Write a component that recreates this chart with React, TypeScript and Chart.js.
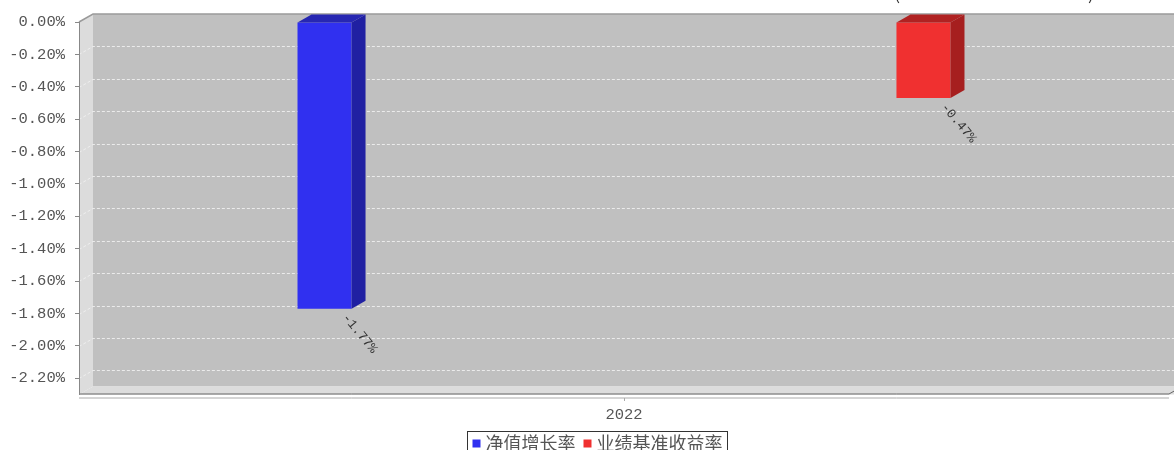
import React, { useEffect, useRef } from "react";
import { Chart, registerables } from "chart.js";

Chart.register(...registerables);

// ---- data ----
const categories = ["2022"];
const seriesNames = ["净值增长率", "业绩基准收益率"];
const navGrowth = [-1.77];
const benchmarkReturn = [-0.47];
const yTickValues = [0, -0.2, -0.4, -0.6, -0.8, -1.0, -1.2, -1.4, -1.6, -1.8, -2.0, -2.2];
const yMin = -2.3;
const yMax = 0;
const titleFragments = ["(", ")"];

// ---- styles ----
const FRONT = ["#3030f0", "#f03030"];
const SIDE = ["#2020a2", "#a61f1f"];
const TOP = ["#2727b2", "#b02222"];
const DX = 14;
const DY = 8;
const W = 1174;
const H = 470;
const MONO = "'Liberation Mono', 'DejaVu Sans Mono', monospace";
const CJK = "'Noto Sans CJK SC', 'Noto Sans', sans-serif";

function poly(ctx: CanvasRenderingContext2D, pts: number[][], fill: string) {
  ctx.beginPath();
  ctx.moveTo(pts[0][0], pts[0][1]);
  for (let i = 1; i < pts.length; i++) ctx.lineTo(pts[i][0], pts[i][1]);
  ctx.closePath();
  ctx.fillStyle = fill;
  ctx.fill();
}

const threeDPlugin = {
  id: "threeD",
  beforeDraw(chart: any) {
    const { ctx, chartArea: a } = chart;
    const ys = chart.scales.y;
    const xs = chart.scales.x;
    const L = a.left, R = a.right, T = a.top, B = a.bottom;
    ctx.save();
    // back wall
    ctx.fillStyle = "#c0c0c0";
    ctx.fillRect(L + DX, T - DY, R - L + 20, B - T);
    // left wall
    poly(ctx, [[L, T], [L + DX, T - DY], [L + DX, B - DY], [L, B]], "#dcdcdc");
    // floor
    poly(ctx, [[L, B], [L + DX, B - DY], [R + DX + 20, B - DY], [R + 20, B]], "#dcdcdc");
    // grid lines
    ctx.setLineDash([3, 2]);
    ctx.strokeStyle = "rgba(240,240,240,0.9)";
    ctx.lineWidth = 1;
    for (const v of yTickValues) {
      if (v === 0) continue;
      const py = Math.round(ys.getPixelForValue(v)) + 0.5;
      ctx.beginPath();
      ctx.moveTo(L, py);
      ctx.lineTo(L + DX, py - DY);
      ctx.lineTo(R + DX + 20, py - DY);
      ctx.stroke();
    }
    ctx.setLineDash([]);
    // top outline
    ctx.strokeStyle = "#9a9a9a";
    ctx.lineWidth = 1.5;
    ctx.beginPath();
    ctx.moveTo(L, T);
    ctx.lineTo(L + DX, T - DY);
    ctx.lineTo(R + DX + 20, T - DY);
    ctx.stroke();
    // floor front edge
    ctx.strokeStyle = "#666";
    ctx.lineWidth = 1;
    ctx.beginPath();
    ctx.moveTo(L, B - 0.5);
    ctx.lineTo(R, B - 0.5);
    ctx.lineTo(R + DX, B - DY - 0.5);
    ctx.stroke();
    // x axis line
    ctx.strokeStyle = "#aaa";
    ctx.beginPath();
    ctx.moveTo(L, B + 3.5);
    ctx.lineTo(R, B + 3.5);
    ctx.stroke();
    // x tick
    const cx = Math.round(xs.getPixelForValue(0)) + 0.5;
    ctx.beginPath();
    ctx.moveTo(cx, B + 3.5);
    ctx.lineTo(cx, B + 6.5);
    ctx.stroke();
    ctx.restore();
  },
  afterDatasetsDraw(chart: any) {
    const { ctx } = chart;
    ctx.save();
    chart.data.datasets.forEach((ds: any, di: number) => {
      const meta = chart.getDatasetMeta(di);
      meta.data.forEach((el: any, i: number) => {
        const { x, y, base, width } = el.getProps(["x", "y", "base", "width"], true);
        const left = x - width / 2;
        const right = x + width / 2;
        const top = Math.min(y, base);
        const bottom = Math.max(y, base);
        poly(ctx, [[right, top], [right + DX, top - DY], [right + DX, bottom - DY], [right, bottom]], SIDE[di]);
        poly(ctx, [[left, top], [left + DX, top - DY], [right + DX, top - DY], [right, top]], TOP[di]);
        // value label
        const v = ds.data[i];
        ctx.save();
        ctx.translate(right - 7, bottom + 7);
        ctx.rotate((50 * Math.PI) / 180);
        ctx.font = `13px ${MONO}`;
        ctx.fillStyle = "#333";
        ctx.textAlign = "left";
        ctx.textBaseline = "middle";
        ctx.fillText(`${v.toFixed(2)}%`, 0, 0);
        ctx.restore();
      });
    });
    ctx.restore();
  },
  afterDraw(chart: any) {
    const { ctx } = chart;
    ctx.save();
    // legend
    ctx.font = `18px ${CJK}`;
    const w1 = ctx.measureText(seriesNames[0]).width;
    const w2 = ctx.measureText(seriesNames[1]).width;
    const total = 5 + 9 + 4 + w1 + 8 + 9 + 5 + w2 + 4;
    const boxL = Math.round(596.5 - total / 2) + 0.5;
    const boxT = 431.5;
    ctx.strokeStyle = "#333";
    ctx.lineWidth = 1;
    ctx.strokeRect(boxL, boxT, total, 30);
    let px = boxL + 5;
    const midY = 443.5;
    chart.data.datasets.forEach((ds: any, di: number) => {
      ctx.fillStyle = FRONT[di];
      ctx.fillRect(px, midY - 4, 8, 8);
      px += 9 + 4;
      ctx.fillStyle = "#555";
      ctx.textAlign = "left";
      ctx.textBaseline = "middle";
      ctx.fillText(seriesNames[di], px, midY);
      px += (di === 0 ? w1 : w2) + 8;
    });
    // cropped title fragments
    ctx.font = `18px ${CJK}`;
    ctx.fillStyle = "#333";
    ctx.textBaseline = "alphabetic";
    ctx.fillText(titleFragments[0], 894, 0);
    ctx.fillText(titleFragments[1], 1088, 0);
    ctx.restore();
  },
};

export default function App() {
  const ref = useRef<HTMLCanvasElement | null>(null);
  useEffect(() => {
    if (!ref.current) return;
    const chart = new Chart(ref.current, {
      type: "bar",
      data: {
        labels: categories,
        datasets: [
          { label: seriesNames[0], data: navGrowth, backgroundColor: FRONT[0], borderWidth: 0 },
          { label: seriesNames[1], data: benchmarkReturn, backgroundColor: FRONT[1], borderWidth: 0 },
        ],
      },
      options: {
        animation: false,
        responsive: false,
        maintainAspectRatio: false,
        categoryPercentage: 1.099,
        barPercentage: 0.0902,
        layout: { padding: { top: 22, right: 5, left: 0, bottom: 0 } },
        plugins: { legend: { display: false }, tooltip: { enabled: false }, title: { display: false } },
        scales: {
          x: {
            type: "category",
            offset: true,
            grid: { display: false },
            border: { display: false },
            ticks: { font: { family: MONO, size: 15.5 }, color: "#555", padding: 3 },
            afterFit: (s: any) => { s.height = H - 394.5; },
          },
          y: {
            type: "linear",
            min: yMin,
            max: yMax,
            grid: { display: true, drawOnChartArea: false, drawTicks: true, tickLength: 4, tickColor: "#888" },
            border: { display: true, color: "#888", width: 1 },
            afterBuildTicks: (s: any) => { s.ticks = yTickValues.map((v) => ({ value: v })); },
            ticks: {
              font: { family: MONO, size: 15.5 },
              color: "#555",
              padding: 10,
              callback: (v: any) => `${Number(v).toFixed(2)}%`,
            },
            afterFit: (s: any) => { s.width = 79; },
          },
        },
      },
      plugins: [threeDPlugin],
    });
    return () => chart.destroy();
  }, []);
  return (
    <div style={{ position: "fixed", left: 0, top: 0, width: W, height: H, background: "#fff" }}>
      <canvas ref={ref} width={W} height={H} style={{ width: W, height: H, display: "block" }} />
    </div>
  );
}
